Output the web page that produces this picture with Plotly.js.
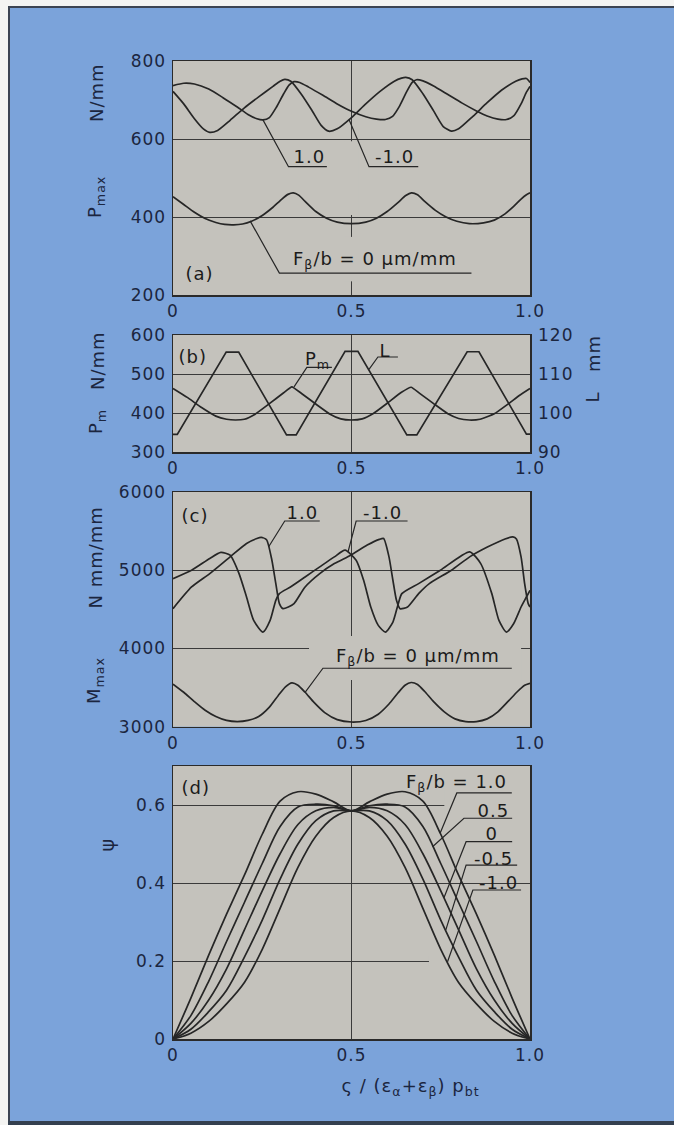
<!DOCTYPE html>
<html><head><meta charset="utf-8">
<script src="https://cdn.plot.ly/plotly-3.0.1.min.js"></script>
<style>
html,body{margin:0;padding:0;background:#ffffff;}
#chart{width:674px;height:1125px;}
.main-svg text{letter-spacing:1px;}
</style>
</head><body><div id="chart"></div>
<script>
// ---------- tick labels ----------
const xTickVals = [0, 0.5, 1];
const xTickText = ['0', '0.5', '1.0'];
const aTicks = [200, 400, 600, 800];
const bTicks = [300, 400, 500, 600];
const bTicksR = [90, 100, 110, 120];
const cTicks = [3000, 4000, 5000, 6000];
const dTicks = [0, 0.2, 0.4, 0.6];
const dTickText = ['0', '0.2', '0.4', '0.6'];

// ---------- panel (a): p_max ----------
const a_x_p10 = [0, 0.03, 0.06, 0.1, 0.14, 0.18, 0.21, 0.235, 0.252, 0.27, 0.29, 0.31, 0.325, 0.339, 0.355, 0.38, 0.42, 0.46, 0.5, 0.54, 0.57, 0.595, 0.615, 0.635, 0.655, 0.67, 0.682, 0.7, 0.73, 0.77, 0.81, 0.85, 0.88, 0.91, 0.934, 0.955, 0.975, 0.99, 1.0];
const a_y_p10 = [737, 743, 741, 728, 706, 682, 663, 652, 649, 655, 682, 716, 738, 747, 745, 733, 712, 690, 671, 657, 651, 650, 658, 685, 722, 745, 752, 749, 736, 714, 692, 672, 659, 651, 650, 660, 690, 720, 735];
const a_x_m10 = [0, 0.03, 0.06, 0.085, 0.103, 0.125, 0.16, 0.2, 0.24, 0.28, 0.3, 0.313, 0.33, 0.36, 0.39, 0.415, 0.436, 0.46, 0.5, 0.54, 0.58, 0.62, 0.64, 0.652, 0.67, 0.7, 0.73, 0.757, 0.78, 0.8, 0.84, 0.88, 0.92, 0.96, 0.978, 0.99, 1.0];
const a_y_m10 = [722, 690, 652, 626, 617, 622, 648, 680, 708, 735, 748, 753, 748, 714, 672, 635, 620, 626, 655, 690, 722, 748, 756, 758, 752, 716, 672, 632, 620, 626, 658, 693, 725, 748, 754, 755, 745];
const a_x_0 = [0, 0.03, 0.06, 0.09, 0.12, 0.145, 0.17, 0.195, 0.22, 0.25, 0.28, 0.305, 0.322, 0.337, 0.352, 0.37, 0.4, 0.43, 0.46, 0.5, 0.54, 0.57, 0.6, 0.63, 0.652, 0.668, 0.685, 0.705, 0.735, 0.765, 0.795, 0.83, 0.87, 0.9, 0.93, 0.955, 0.975, 0.99, 1.0];
const a_y_0 = [452, 432, 412, 396, 386, 381, 380, 382, 389, 404, 425, 446, 458, 462, 456, 440, 414, 397, 387, 383, 387, 397, 414, 437, 455, 462, 457, 440, 417, 400, 389, 383, 385, 392, 408, 428, 446, 457, 462];

// ---------- panel (b): p_m and L ----------
const b_x_pm = [0, 0.04, 0.08, 0.12, 0.15, 0.175, 0.2, 0.23, 0.27, 0.31, 0.333, 0.36, 0.4, 0.44, 0.47, 0.5, 0.53, 0.56, 0.6, 0.64, 0.667, 0.69, 0.73, 0.77, 0.8, 0.83, 0.86, 0.9, 0.94, 0.97, 1.0];
const b_y_pm = [463, 440, 414, 392, 384, 382, 384, 397, 424, 452, 467, 450, 423, 397, 385, 382, 385, 398, 425, 453, 466, 451, 424, 398, 386, 382, 384, 398, 424, 445, 463];
const b_x_L = [0, 0.012, 0.149, 0.184, 0.318, 0.345, 0.482, 0.518, 0.655, 0.683, 0.824, 0.857, 0.99, 1.0];
const b_y_L = [94.5, 94.5, 115.6, 115.6, 94.4, 94.4, 115.8, 115.8, 94.4, 94.4, 115.7, 115.7, 94.6, 94.6];

// ---------- panel (c): M_max ----------
const c_x_p10 = [0, 0.052, 0.103, 0.16, 0.206, 0.235, 0.247, 0.262, 0.277, 0.288, 0.298, 0.308, 0.323, 0.339, 0.37, 0.411, 0.452, 0.498, 0.544, 0.578, 0.59, 0.605, 0.616, 0.626, 0.636, 0.657, 0.688, 0.718, 0.78, 0.831, 0.882, 0.93, 0.952, 0.962, 0.975, 0.985, 0.995, 1.0];
const c_y_p10 = [4509, 4786, 4957, 5171, 5342, 5405, 5419, 5390, 5128, 4829, 4573, 4509, 4530, 4573, 4786, 4957, 5085, 5192, 5321, 5395, 5406, 5171, 4872, 4615, 4509, 4530, 4701, 4829, 5000, 5171, 5299, 5400, 5427, 5400, 5171, 4829, 4573, 4530];
const c_x_m10 = [0, 0.052, 0.103, 0.134, 0.16, 0.185, 0.206, 0.226, 0.252, 0.272, 0.288, 0.298, 0.329, 0.37, 0.411, 0.452, 0.482, 0.513, 0.534, 0.554, 0.575, 0.595, 0.616, 0.631, 0.641, 0.688, 0.749, 0.831, 0.862, 0.893, 0.913, 0.934, 0.954, 0.975, 0.99, 1.0];
const c_y_m10 = [4893, 5000, 5150, 5227, 5192, 4957, 4658, 4359, 4209, 4359, 4615, 4701, 4786, 4914, 5043, 5171, 5256, 5128, 4872, 4530, 4295, 4209, 4338, 4573, 4701, 4829, 5000, 5235, 5085, 4701, 4359, 4209, 4316, 4530, 4658, 4743];
const c_x_0 = [0, 0.03, 0.06, 0.09, 0.12, 0.15, 0.18, 0.21, 0.24, 0.27, 0.295, 0.315, 0.333, 0.35, 0.37, 0.395, 0.425, 0.46, 0.5, 0.54, 0.575, 0.605, 0.63, 0.65, 0.667, 0.685, 0.705, 0.73, 0.76, 0.79, 0.82, 0.85, 0.88, 0.91, 0.94, 0.965, 0.985, 1.0];
const c_y_0 = [3545, 3440, 3320, 3210, 3130, 3080, 3065, 3080, 3130, 3250, 3400, 3510, 3560, 3530, 3440, 3310, 3180, 3090, 3060, 3080, 3160, 3290, 3430, 3530, 3565, 3540, 3450, 3320, 3190, 3100, 3065, 3065, 3100, 3190, 3330, 3450, 3530, 3555];

// ---------- panel (d): psi ----------
const d_x = [0, 0.05, 0.1, 0.15, 0.2, 0.25, 0.3, 0.35, 0.4, 0.45, 0.5, 0.55, 0.6, 0.65, 0.7, 0.75, 0.8, 0.85, 0.9, 0.95, 1.0];
const d_p10 = [0, 0.105, 0.215, 0.32, 0.42, 0.525, 0.61, 0.634, 0.628, 0.608, 0.585, 0.608, 0.628, 0.634, 0.61, 0.525, 0.42, 0.32, 0.215, 0.105, 0];
const d_p05 = [0, 0.06, 0.148, 0.25, 0.35, 0.45, 0.545, 0.595, 0.602, 0.598, 0.585, 0.598, 0.602, 0.595, 0.545, 0.45, 0.35, 0.25, 0.148, 0.06, 0];
const d_0   = [0, 0.04, 0.1, 0.18, 0.28, 0.38, 0.475, 0.55, 0.585, 0.594, 0.585, 0.594, 0.585, 0.55, 0.475, 0.38, 0.28, 0.18, 0.1, 0.04, 0];
const d_m05 = [0, 0.025, 0.07, 0.125, 0.21, 0.305, 0.41, 0.5, 0.56, 0.585, 0.585, 0.585, 0.56, 0.5, 0.41, 0.305, 0.21, 0.125, 0.07, 0.025, 0];
const d_m10 = [0, 0.015, 0.045, 0.09, 0.145, 0.23, 0.335, 0.44, 0.52, 0.568, 0.585, 0.568, 0.52, 0.44, 0.335, 0.23, 0.145, 0.09, 0.045, 0.015, 0];

// ---------- styling ----------
const W = 674, H = 1125;
const FONT = 'DejaVu Sans';
const LINE = '#262626';
const GRID = '#3a3a3a';
const FRAME = '#2a2a2a';
const TXT = '#1b2640';
const INK = '#1b1b1b';
const BLUE = '#7ba3da';
const PLOTBG = '#c4c2bc';
const TF = {family: FONT, size: 17, color: TXT};
const px = v => v / W, py = v => 1 - v / H;
const XD = [173 / W, 530 / W];

function trace(x, y, xa, ya, smooth) {
  return {x: x, y: y, xaxis: xa, yaxis: ya, type: 'scatter', mode: 'lines', hoverinfo: 'skip',
    line: {color: LINE, width: 1.7, shape: smooth ? 'spline' : 'linear', smoothing: smooth || 0}};
}
const data = [
  trace(a_x_p10, a_y_p10, 'x', 'y', 0.6),
  trace(a_x_m10, a_y_m10, 'x', 'y', 0.6),
  trace(a_x_0, a_y_0, 'x', 'y', 0.6),
  trace(b_x_pm, b_y_pm, 'x2', 'y2', 0.4),
  trace(b_x_L, b_y_L, 'x2', 'y5', 0),
  trace(c_x_p10, c_y_p10, 'x3', 'y3', 0.6),
  trace(c_x_m10, c_y_m10, 'x3', 'y3', 0.6),
  trace(c_x_0, c_y_0, 'x3', 'y3', 0.6),
  trace(d_x, d_p10, 'x4', 'y4', 0.9),
  trace(d_x, d_p05, 'x4', 'y4', 0.9),
  trace(d_x, d_0, 'x4', 'y4', 0.9),
  trace(d_x, d_m05, 'x4', 'y4', 0.9),
  trace(d_x, d_m10, 'x4', 'y4', 0.9)
];

function xax(anchor) {
  return {domain: XD, anchor: anchor, range: [0, 1], tickvals: xTickVals, ticktext: xTickText,
    showgrid: true, gridcolor: GRID, gridwidth: 1, showline: true, mirror: true, linecolor: FRAME,
    linewidth: 1.5, zeroline: false, ticks: '', tickfont: TF, ticklabelstandoff: 0, fixedrange: true};
}
function yax(anchor, dom, range, tv, tt) {
  const o = {domain: dom, anchor: anchor, range: range, tickvals: tv,
    showgrid: true, gridcolor: GRID, gridwidth: 1, showline: true, mirror: true, linecolor: FRAME,
    linewidth: 1.5, zeroline: false, ticks: '', tickfont: TF, ticklabelstandoff: 2, fixedrange: true};
  if (tt) o.ticktext = tt;
  return o;
}

function ann(text, xref, yref, x, y, opts) {
  return Object.assign({text: text, xref: xref, yref: yref, x: x, y: y, showarrow: false,
    xanchor: 'center', yanchor: 'middle', font: {family: FONT, size: 18, color: INK}}, opts || {});
}
function pann(text, xp, yp, opts) {
  return Object.assign({text: text, xref: 'paper', yref: 'paper', x: px(xp), y: py(yp), showarrow: false,
    xanchor: 'center', yanchor: 'middle', font: {family: FONT, size: 18, color: TXT}}, opts || {});
}
function leader(xr, yr, pts) {
  const d = 'M ' + pts.map(p => p[0] + ',' + p[1]).join(' L ');
  return {type: 'path', xref: xr, yref: yr, path: d, line: {color: LINE, width: 1.2}};
}
// plain patches (label boxes in the original) that interrupt grid lines, drawn under the curves
function patch(xr, yr, x0, x1, y0, y1) {
  return {type: 'rect', xref: xr, yref: yr, x0: x0, x1: x1, y0: y0, y1: y1,
    fillcolor: PLOTBG, line: {width: 0}, layer: 'between'};
}

const annotations = [
  // axis titles
  pann('N/mm', 96, 93, {textangle: -90}),
  pann('P<sub>max</sub>', 96, 197, {textangle: -90}),
  pann('N/mm', 97, 361, {textangle: -90}),
  pann('P<sub>m</sub>', 97, 422, {textangle: -90}),
  pann('mm', 593, 354, {textangle: -90}),
  pann('L', 593, 397, {textangle: -90}),
  pann('N mm/mm', 95, 558, {textangle: -90}),
  pann('M<sub>max</sub>', 95, 680, {textangle: -90}),
  pann('ψ', 107, 845, {textangle: -90, font: {family: FONT, size: 19, color: TXT}}),
  pann('ς / (ε<sub>α</sub>+ε<sub>β</sub>) p<sub>bt</sub>', 347, 1087, {xanchor: 'left'}),
  // panel (a)
  ann('(a)', 'x', 'y', 0.073, 256),
  ann('1.0', 'x', 'y', 0.381, 556),
  ann('-1.0', 'x', 'y', 0.621, 556),
  ann('F<sub>β</sub>/b = 0 μm/mm', 'x', 'y', 0.567, 290),
  // panel (b)
  ann('(b)', 'x2', 'y2', 0.056, 544),
  ann('P<sub>m</sub>', 'x2', 'y2', 0.405, 536),
  ann('L', 'x2', 'y2', 0.595, 561),
  // panel (c)
  ann('(c)', 'x3', 'y3', 0.062, 5706),
  ann('1.0', 'x3', 'y3', 0.364, 5735),
  ann('-1.0', 'x3', 'y3', 0.587, 5735),
  ann('F<sub>β</sub>/b = 0 μm/mm', 'x3', 'y3', 0.687, 3895),
  // panel (d)
  ann('(d)', 'x4', 'y4', 0.062, 0.644),
  ann('F<sub>β</sub>/b = 1.0', 'x4', 'y4', 0.795, 0.656),
  ann('0.5', 'x4', 'y4', 0.898, 0.587),
  ann('0', 'x4', 'y4', 0.892, 0.528),
  ann('-0.5', 'x4', 'y4', 0.898, 0.464),
  ann('-1.0', 'x4', 'y4', 0.913, 0.401)
];

const shapes = [
  // outer frame of the figure
  {type: 'rect', xref: 'paper', yref: 'paper', x0: 0, x1: px(8), y0: 0, y1: 1, fillcolor: '#f4f4f2', line: {width: 0}, layer: 'below'},
  {type: 'rect', xref: 'paper', yref: 'paper', x0: 0, x1: 1, y0: py(6), y1: 1, fillcolor: '#f4f4f2', line: {width: 0}, layer: 'below'},
  {type: 'line', xref: 'paper', yref: 'paper', x0: px(8), x1: 1, y0: py(7), y1: py(7), line: {color: '#3c4452', width: 2}},
  {type: 'line', xref: 'paper', yref: 'paper', x0: px(9), x1: px(9), y0: 0, y1: py(7), line: {color: '#3c4452', width: 2}},
  {type: 'rect', xref: 'paper', yref: 'paper', x0: px(8), x1: 1, y0: 0, y1: py(1121), fillcolor: '#34404f', line: {width: 0}},
  // grid interruptions behind labels
  patch('x', 'y', 0.48, 0.52, 405, 594),
  patch('x', 'y', 0.48, 0.52, 235, 349),
  patch('x3', 'y3', 0.381, 0.975, 3597, 4160),
  patch('x4', 'y4', 0.76, 1.0, 0.57, 0.7),
  patch('x4', 'y4', 0.717, 1.0, 0.185, 0.215),
  // leaders (a)
  leader('x', 'y', [[0.252, 649], [0.3235, 529], [0.431, 529]]),
  leader('x', 'y', [[0.493, 650], [0.549, 529], [0.687, 529]]),
  leader('x', 'y', [[0.216, 390], [0.298, 256], [0.836, 256]]),
  // leaders (b)
  leader('x2', 'y2', [[0.339, 467], [0.375, 517], [0.445, 517]]),
  leader('x2', 'y2', [[0.549, 512], [0.574, 543.6], [0.63, 543.6]]),
  // leaders (c)
  leader('x3', 'y3', [[0.268, 5300], [0.313, 5629], [0.411, 5629]]),
  leader('x3', 'y3', [[0.49, 5230], [0.513, 5629], [0.657, 5629]]),
  leader('x3', 'y3', [[0.37, 3440], [0.42, 3747], [0.949, 3747]]),
  // leaders (d)
  leader('x4', 'y4', [[0.7485, 0.528], [0.795, 0.631], [0.949, 0.631]]),
  leader('x4', 'y4', [[0.727, 0.493], [0.815, 0.566], [0.95, 0.566]]),
  leader('x4', 'y4', [[0.759, 0.362], [0.821, 0.506], [0.95, 0.506]]),
  leader('x4', 'y4', [[0.764, 0.279], [0.821, 0.446], [0.964, 0.446]]),
  leader('x4', 'y4', [[0.769, 0.198], [0.84, 0.382], [0.975, 0.382]])
];

const layout = {
  width: W, height: H, margin: {l: 0, r: 0, t: 0, b: 0},
  paper_bgcolor: BLUE, plot_bgcolor: PLOTBG, showlegend: false, hovermode: false,
  font: {family: FONT, color: TXT},
  xaxis: xax('y'), xaxis2: xax('y2'), xaxis3: xax('y3'), xaxis4: xax('y4'),
  yaxis: yax('x', [py(295), py(61)], [200, 800], aTicks),
  yaxis2: yax('x2', [py(452), py(335)], [300, 600], bTicks),
  yaxis3: yax('x3', [py(726.7), py(492)], [3000, 6000], cTicks),
  yaxis4: yax('x4', [py(1039), py(766)], [0, 0.7], dTicks, dTickText),
  yaxis5: {overlaying: 'y2', side: 'right', anchor: 'x2', range: [90, 120], tickvals: bTicksR,
    showgrid: false, showline: false, zeroline: false, ticks: '', tickfont: TF, ticklabelstandoff: 7, fixedrange: true},
  annotations: annotations, shapes: shapes
};

// Plotly surrounds sub/superscripts with zero-width-space pieces (a lead-in text node and a
// baseline-reset tspan). Fold them away: strip the zero-width spaces, let each reset tspan carry
// the text that follows it, and drop reset tspans that have nothing after them.
function foldEmptyTextPieces(root) {
  const walker = document.createTreeWalker(root, NodeFilter.SHOW_TEXT);
  const nodes = [];
  while (walker.nextNode()) nodes.push(walker.currentNode);
  nodes.forEach(function (n) {
    if (n.nodeValue.indexOf('\u200b') >= 0) n.nodeValue = n.nodeValue.replace(/\u200b/g, '');
    if (n.nodeValue === '' && n.parentNode) n.parentNode.removeChild(n);
  });
  root.querySelectorAll('tspan').forEach(function (t) {
    if (t.textContent !== '') return;
    const nx = t.nextSibling;
    if (nx && nx.nodeType === 3 && nx.nodeValue !== '') t.appendChild(nx);
    else if (t.parentNode) t.parentNode.removeChild(t);
  });
}

Plotly.newPlot('chart', data, layout, {displayModeBar: false, staticPlot: true}).then(function (gd) {
  foldEmptyTextPieces(gd);
});
</script></body></html>
